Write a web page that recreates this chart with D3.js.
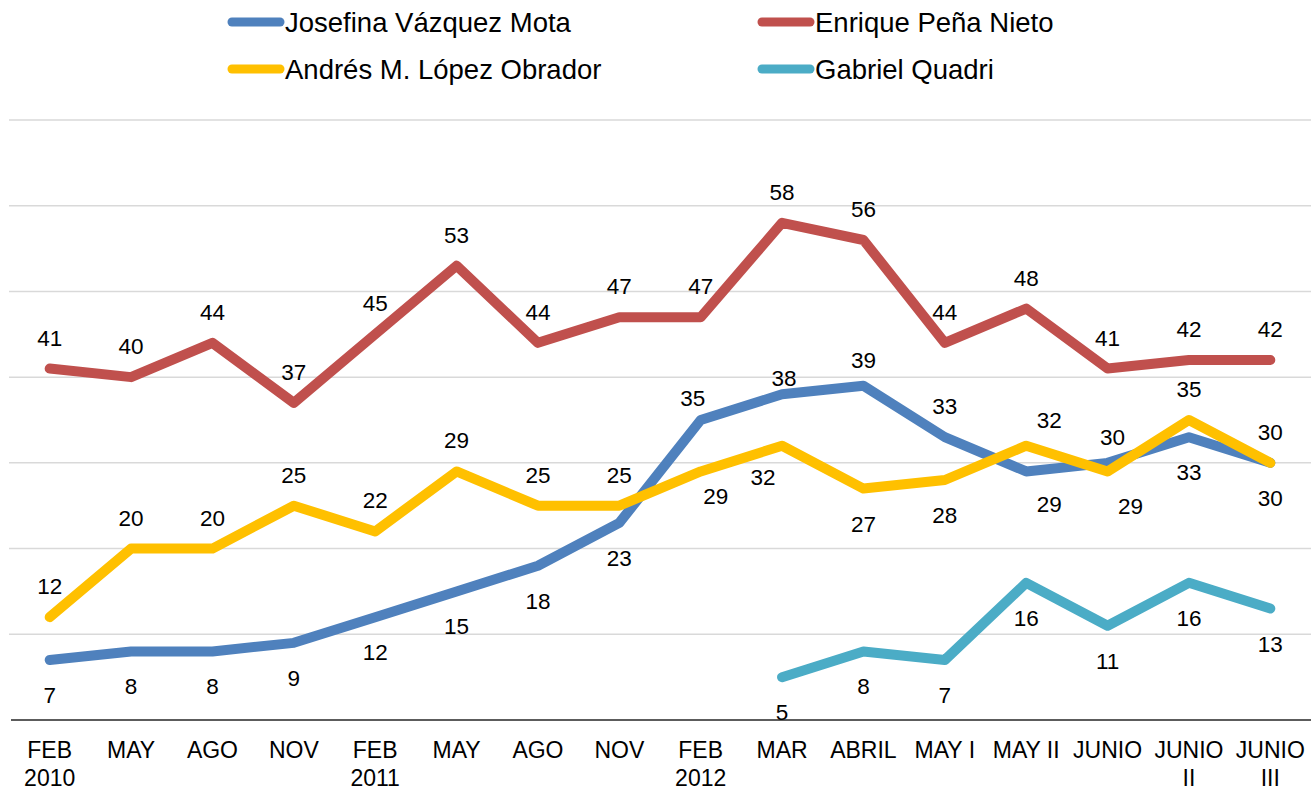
<!DOCTYPE html>
<html>
<head>
<meta charset="utf-8">
<script src="https://cdn.jsdelivr.net/npm/d3@7"></script>
<style>
  html, body { margin: 0; padding: 0; background: #fff; }
  svg { display: block; font-family: "Liberation Sans", Arial, sans-serif; }
</style>
</head>
<body>
<svg id="chart" width="1311" height="790"></svg>
<script>
// ---------- data ----------
const categories = ["FEB 2010","MAY","AGO","NOV","FEB 2011","MAY","AGO","NOV","FEB 2012","MAR","ABRIL","MAY I","MAY II","JUNIO","JUNIO II","JUNIO III"];
const categoryLines = [["FEB","2010"],["MAY"],["AGO"],["NOV"],["FEB","2011"],["MAY"],["AGO"],["NOV"],["FEB","2012"],["MAR"],["ABRIL"],["MAY I"],["MAY II"],["JUNIO"],["JUNIO","II"],["JUNIO","III"]];
const seriesNames = ["Josefina Vázquez Mota","Enrique Peña Nieto","Andrés M. López Obrador","Gabriel Quadri"];
const vazquezMota = [7, 8, 8, 9, 12, 15, 18, 23, 35, 38, 39, 33, 29, 30, 33, 30];
const penaNieto   = [41, 40, 44, 37, 45, 53, 44, 47, 47, 58, 56, 44, 48, 41, 42, 42];
const lopezObrador= [12, 20, 20, 25, 22, 29, 25, 25, 29, 32, 27, 28, 32, 29, 35, 30];
const quadri      = [null, null, null, null, null, null, null, null, null, 5, 8, 7, 16, 11, 16, 13];
const yTicks = [0, 10, 20, 30, 40, 50, 60, 70];

// ---------- style / layout ----------
const colors = ["#4F81BD", "#C0504D", "#FFC000", "#4BACC6"];
const seriesValues = [vazquezMota, penaNieto, lopezObrador, quadri];
// label placement: "a" above, "b" below
const labelSide = [
  ["b","b","b","b","b","b","b","b","a","a","a","a","b","a","b","b"],
  ["a","a","a","a","a","a","a","a","a","a","a","a","a","a","a","a"],
  ["a","a","a","a","a","a","a","a","b","b","b","b","a","b","a","a"],
  ["b","b","b","b","b","b","b","b","b","b","b","b","b","b","b","b"]
];
// fine nudges [dx, dy] for a few labels (series index -> point index)
const labelNudge = {
  0: {8: [-8, 9], 9: [2, 15], 10: [0, 5], 12: [23, -2], 13: [5, 5]},
  2: {8: [15, -10], 9: [-19, -4], 12: [23, 5], 13: [23, 0]}
};

const svg = d3.select("#chart");
const plotLeft = 9, plotRight = 1311, plotTop = 120, plotBottom = 720;

const x = d3.scalePoint().domain(d3.range(categories.length)).range([plotLeft, plotRight]).padding(0.5);
const y = d3.scaleLinear().domain([0, 70]).range([plotBottom, plotTop]);

// gridlines
svg.append("g").selectAll("line").data(yTicks.filter(d => d > 0)).join("line")
  .attr("x1", plotLeft).attr("x2", plotRight)
  .attr("y1", d => y(d)).attr("y2", d => y(d))
  .attr("stroke", "#d9d9d9").attr("stroke-width", 1.5);

// x axis line
const xAxis = d3.axisBottom(x).tickSize(0).tickFormat("");
const gx = svg.append("g").attr("transform", `translate(0,${y(0)})`).call(xAxis);
gx.select(".domain").attr("d", `M${plotLeft + 2},0H${plotRight}`).attr("stroke", "#262626").attr("stroke-width", 1.5);

// x labels
const xl = svg.append("g").selectAll("text").data(categoryLines).join("text")
  .attr("text-anchor", "middle").attr("font-size", 23).attr("fill", "#000");
xl.each(function(lines, i) {
  const t = d3.select(this);
  lines.forEach((ln, k) => {
    t.append("tspan").attr("x", x(i)).attr("y", 758 + k * 28).text(ln);
  });
});

// lines
const line = d3.line().defined(d => d != null).x((d, i) => x(i)).y(d => y(d));
seriesValues.forEach((vals, s) => {
  svg.append("path").datum(vals)
    .attr("d", line)
    .attr("fill", "none")
    .attr("stroke", colors[s])
    .attr("stroke-width", 10)
    .attr("stroke-linejoin", "round")
    .attr("stroke-linecap", "round");
});

// data labels
const fs = 22.5;
seriesValues.forEach((vals, s) => {
  const g = svg.append("g");
  vals.forEach((v, i) => {
    if (v == null) return;
    const side = labelSide[s][i];
    let cy = y(v) + (side === "a" ? -31 : 35);
    let cx = x(i);
    const nud = labelNudge[s] && labelNudge[s][i];
    if (nud) { cx += nud[0]; cy += nud[1]; }
    g.append("text")
      .attr("x", cx).attr("y", cy + fs * 0.358)
      .attr("text-anchor", "middle")
      .attr("font-size", fs).attr("fill", "#000")
      .text(v);
  });
});

// legend
const legendPos = [[228, 22], [758, 22], [228, 69], [758, 69]];
seriesNames.forEach((name, s) => {
  const [lx, ly] = legendPos[s];
  svg.append("line")
    .attr("x1", lx + 4).attr("x2", lx + 52)
    .attr("y1", ly).attr("y2", ly)
    .attr("stroke", colors[s]).attr("stroke-width", 9).attr("stroke-linecap", "round");
  svg.append("text")
    .attr("x", lx + 57).attr("y", ly + 9.8)
    .attr("font-size", 27.5).attr("fill", "#000")
    .text(name);
});
</script>
</body>
</html>
